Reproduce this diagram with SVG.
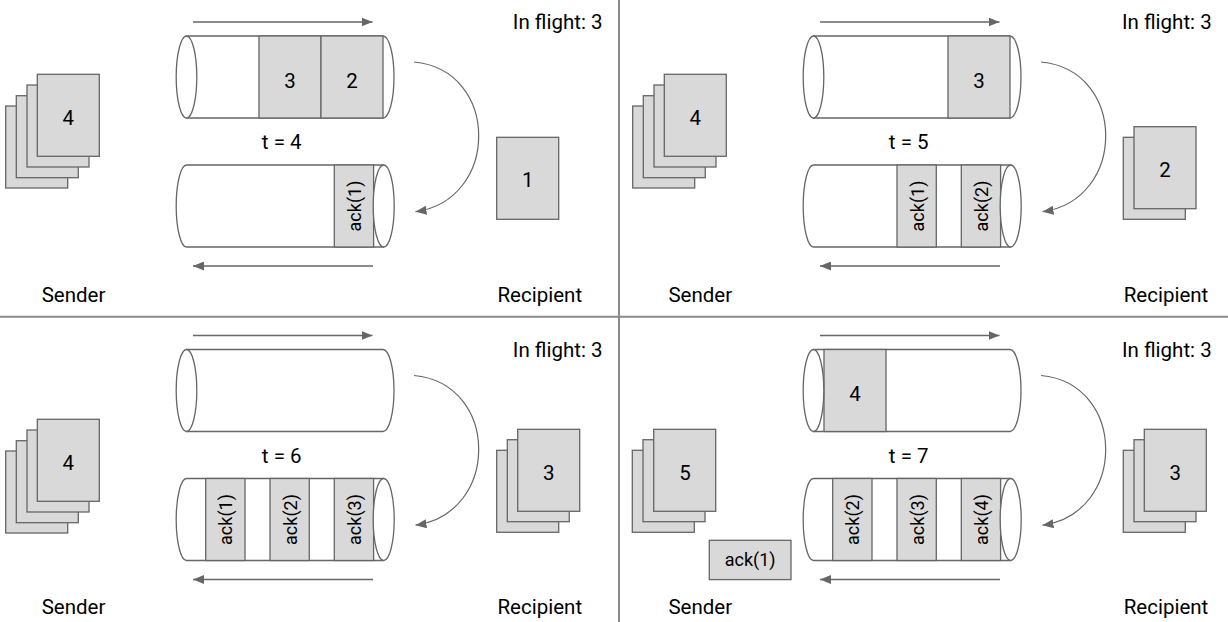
<svg xmlns="http://www.w3.org/2000/svg" width="1228" height="622" viewBox="0 0 1228 622">
<style>
.pkt{fill:#d9d9d9;stroke:#666;stroke-width:1.3}
.cyl{fill:#fff;stroke:#666;stroke-width:1.3}
.lbl{font-family:Roboto,"Liberation Sans",sans-serif;font-size:20.5px;fill:#000}
.mid{text-anchor:middle}
.end{text-anchor:end}
.ack{font-family:Roboto,"Liberation Sans",sans-serif;font-size:18px;fill:#000;text-anchor:middle}
.flow{stroke:#666;stroke-width:1.5;fill:none}
.curve{stroke:#666;stroke-width:1.2;fill:none}
.sep{stroke:#8a8a8a;stroke-width:2}
</style>
<defs>
<marker id="ah" viewBox="0 0 11 9" refX="11" refY="4.5" markerWidth="11" markerHeight="9" markerUnits="userSpaceOnUse" orient="auto">
<path d="M0,0 L11,4.5 L0,9 Z" fill="#666"/>
</marker>
<path id="topbody" d="M186.5,36 H383 A11,41 0 0 1 383,118 H186.5 Z"/>
<path id="botbody" d="M383.5,165 H186.5 A10.3,41 0 0 0 186.5,247 H383.5 Z"/>
</defs>
<rect width="1228" height="622" fill="#fff"/>
<g id="separators">
<line class="sep" x1="619" y1="0" x2="619" y2="622"/>
<line class="sep" x1="0" y1="316.7" x2="1228" y2="316.7"/>
</g>

<!-- Top-left quadrant t=4 -->
<g id="tl-channel-out">
<use href="#topbody" class="cyl"/>
<rect class="pkt" x="259" y="36" width="62" height="82"/>
<rect class="pkt" x="321" y="36" width="62" height="82"/>
<ellipse class="cyl" cx="186.5" cy="77" rx="10.3" ry="41"/>
<text class="lbl mid" x="290" y="87.5">3</text>
<text class="lbl mid" x="352" y="87.5">2</text>
</g>
<g id="tl-channel-back">
<use href="#botbody" class="cyl"/>
<rect class="pkt" x="334.3" y="165" width="39.3" height="82"/>
<ellipse class="cyl" cx="383.7" cy="206" rx="10.5" ry="41"/>
<text class="ack" transform="translate(361,206) rotate(-90)">ack(1)</text>
</g>
<g id="tl-time"><text class="lbl mid" x="281.7" y="149">t = 4</text></g>
<g id="tl-inflight"><text class="lbl end" x="602.5" y="28.5">In flight: 3</text></g>
<g id="tl-sender">
<rect class="pkt" x="5.7" y="106" width="62" height="82"/>
<rect class="pkt" x="16.3" y="95.7" width="62" height="82"/>
<rect class="pkt" x="27" y="85" width="62" height="82"/>
<rect class="pkt" x="37.3" y="74.3" width="62" height="82"/>
<text class="lbl mid" x="68.3" y="125">4</text>
<text class="lbl mid" x="73.5" y="302">Sender</text>
</g>
<g id="tl-recipient">
<rect class="pkt" x="496.7" y="137.3" width="62" height="82"/>
<text class="lbl mid" x="527.7" y="186.5">1</text>
<text class="lbl mid" x="539.8" y="302">Recipient</text>
</g>

<!-- Top-right quadrant t=5 -->
<g id="tr-channel-out" transform="translate(627,0)">
<use href="#topbody" class="cyl"/>
<rect class="pkt" x="321" y="36" width="62" height="82"/>
<ellipse class="cyl" cx="186.5" cy="77" rx="10.3" ry="41"/>
<text class="lbl mid" x="352" y="87.5">3</text>
</g>
<g id="tr-channel-back" transform="translate(627,0)">
<use href="#botbody" class="cyl"/>
<rect class="pkt" x="270" y="165" width="39.3" height="82"/>
<rect class="pkt" x="334.3" y="165" width="39.3" height="82"/>
<ellipse class="cyl" cx="383.7" cy="206" rx="10.5" ry="41"/>
<text class="ack" transform="translate(296.7,206) rotate(-90)">ack(1)</text>
<text class="ack" transform="translate(361,206) rotate(-90)">ack(2)</text>
</g>
<g id="tr-time"><text class="lbl mid" x="908.7" y="149">t = 5</text></g>
<g id="tr-inflight"><text class="lbl end" x="1211.7" y="28.5">In flight: 3</text></g>
<g id="tr-sender">
<rect class="pkt" x="632.7" y="106" width="62" height="82"/>
<rect class="pkt" x="643.3" y="95.7" width="62" height="82"/>
<rect class="pkt" x="654" y="85" width="62" height="82"/>
<rect class="pkt" x="664.3" y="74.3" width="62" height="82"/>
<text class="lbl mid" x="695.3" y="125">4</text>
<text class="lbl mid" x="700.3" y="302">Sender</text>
</g>
<g id="tr-recipient">
<rect class="pkt" x="1123.3" y="137.3" width="62" height="82"/>
<rect class="pkt" x="1134" y="126.7" width="62" height="82"/>
<text class="lbl mid" x="1165" y="177">2</text>
<text class="lbl mid" x="1166" y="302">Recipient</text>
</g>

<!-- Bottom-left quadrant t=6 -->
<g id="bl-channel-out" transform="translate(0,313.5)">
<use href="#topbody" class="cyl"/>
<ellipse class="cyl" cx="186.5" cy="77" rx="10.3" ry="41"/>
</g>
<g id="bl-channel-back" transform="translate(0,313.5)">
<use href="#botbody" class="cyl"/>
<rect class="pkt" x="205.7" y="165" width="39.3" height="82"/>
<rect class="pkt" x="270" y="165" width="39.3" height="82"/>
<rect class="pkt" x="334.3" y="165" width="39.3" height="82"/>
<ellipse class="cyl" cx="383.7" cy="206" rx="10.5" ry="41"/>
<text class="ack" transform="translate(232.4,206) rotate(-90)">ack(1)</text>
<text class="ack" transform="translate(296.7,206) rotate(-90)">ack(2)</text>
<text class="ack" transform="translate(361,206) rotate(-90)">ack(3)</text>
</g>
<g id="bl-time"><text class="lbl mid" x="281.7" y="462.5">t = 6</text></g>
<g id="bl-inflight"><text class="lbl end" x="602.5" y="356.5">In flight: 3</text></g>
<g id="bl-sender">
<rect class="pkt" x="5.7" y="451" width="62" height="82"/>
<rect class="pkt" x="16.3" y="440.7" width="62" height="82"/>
<rect class="pkt" x="27" y="430" width="62" height="82"/>
<rect class="pkt" x="37.3" y="419.3" width="62" height="82"/>
<text class="lbl mid" x="68.3" y="470">4</text>
<text class="lbl mid" x="73.5" y="614">Sender</text>
</g>
<g id="bl-recipient">
<rect class="pkt" x="496.7" y="450.3" width="62" height="82"/>
<rect class="pkt" x="507.3" y="439.7" width="62" height="82"/>
<rect class="pkt" x="517.7" y="429.3" width="62" height="82"/>
<text class="lbl mid" x="548.7" y="479.5">3</text>
<text class="lbl mid" x="539.8" y="614">Recipient</text>
</g>

<!-- Bottom-right quadrant t=7 -->
<g id="br-channel-out" transform="translate(627,313.5)">
<use href="#topbody" class="cyl"/>
<rect class="pkt" x="197" y="36" width="62" height="82"/>
<ellipse class="cyl" cx="186.5" cy="77" rx="10.3" ry="41"/>
<text class="lbl mid" x="228" y="87.5">4</text>
</g>
<g id="br-channel-back" transform="translate(627,313.5)">
<use href="#botbody" class="cyl"/>
<rect class="pkt" x="205.7" y="165" width="39.3" height="82"/>
<rect class="pkt" x="270" y="165" width="39.3" height="82"/>
<rect class="pkt" x="334.3" y="165" width="39.3" height="82"/>
<ellipse class="cyl" cx="383.7" cy="206" rx="10.5" ry="41"/>
<text class="ack" transform="translate(232.4,206) rotate(-90)">ack(2)</text>
<text class="ack" transform="translate(296.7,206) rotate(-90)">ack(3)</text>
<text class="ack" transform="translate(361,206) rotate(-90)">ack(4)</text>
</g>
<g id="br-time"><text class="lbl mid" x="908.7" y="462.5">t = 7</text></g>
<g id="br-inflight"><text class="lbl end" x="1211.7" y="356.5">In flight: 3</text></g>
<g id="br-sender">
<rect class="pkt" x="632.3" y="450.3" width="62" height="82"/>
<rect class="pkt" x="643" y="439.7" width="62" height="82"/>
<rect class="pkt" x="653.7" y="429.3" width="62" height="82"/>
<text class="lbl mid" x="685" y="480.3">5</text>
<text class="lbl mid" x="700.3" y="614">Sender</text>
</g>
<g id="br-ack1">
<rect class="pkt" x="709.3" y="540.3" width="81.7" height="39.3"/>
<text class="ack" x="750.2" y="566">ack(1)</text>
</g>
<g id="br-recipient">
<rect class="pkt" x="1123.3" y="450.3" width="62" height="82"/>
<rect class="pkt" x="1134" y="439.7" width="62" height="82"/>
<rect class="pkt" x="1144.3" y="429.3" width="62" height="82"/>
<text class="lbl mid" x="1175.3" y="479.5">3</text>
<text class="lbl mid" x="1166" y="614">Recipient</text>
</g>

<g id="connectors">
<g transform="translate(0,0)">
<path class="flow" d="M193,22 H372.5" marker-end="url(#ah)"/>
<path class="flow" d="M373,266 H193" marker-end="url(#ah)"/>
<path class="curve" d="M414,62 C500,70 500,200 415.5,211.7" marker-end="url(#ah)"/>
</g>
<g transform="translate(627,0)">
<path class="flow" d="M193,22 H372.5" marker-end="url(#ah)"/>
<path class="flow" d="M373,266 H193" marker-end="url(#ah)"/>
<path class="curve" d="M414,62 C500,70 500,200 415.5,211.7" marker-end="url(#ah)"/>
</g>
<g transform="translate(0,313.5)">
<path class="flow" d="M193,22 H372.5" marker-end="url(#ah)"/>
<path class="flow" d="M373,266 H193" marker-end="url(#ah)"/>
<path class="curve" d="M414,62 C500,70 500,200 415.5,211.7" marker-end="url(#ah)"/>
</g>
<g transform="translate(627,313.5)">
<path class="flow" d="M193,22 H372.5" marker-end="url(#ah)"/>
<path class="flow" d="M373,266 H193" marker-end="url(#ah)"/>
<path class="curve" d="M414,62 C500,70 500,200 415.5,211.7" marker-end="url(#ah)"/>
</g>
</g>
</svg>
